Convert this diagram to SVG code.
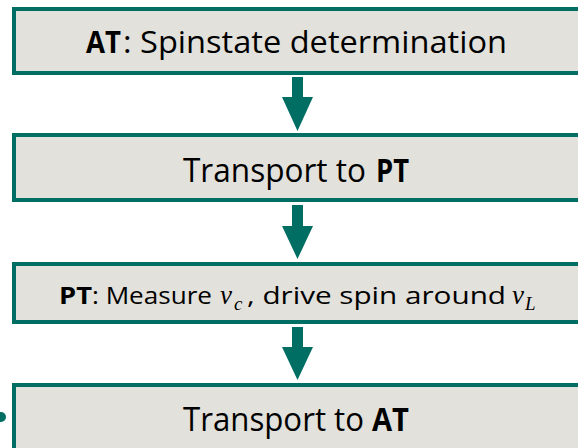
<svg xmlns="http://www.w3.org/2000/svg" width="578" height="448" viewBox="0 0 578 448">
  <style>
    .box { fill: #E2E1DB; stroke: #006E63; stroke-width: 4; }
    .lbl { font-family: "Open Sans", "Noto Sans", sans-serif; fill: #000; }
    .b { font-weight: bold; }
    .math { font-family: "Liberation Serif", "DejaVu Serif", serif; font-style: italic; fill: #000; }
    .arrow { fill: #006E63; }
  </style>
  <rect x="0" y="0" width="578" height="448" fill="#FFFFFF"/>

  <g id="node-at-spinstate">
    <rect class="box" x="14" y="9" width="580" height="64"/>
    <text class="lbl b" x="86" y="53" font-size="31" textLength="35" lengthAdjust="spacingAndGlyphs">AT</text>
    <text class="lbl" x="123" y="53" font-size="31" textLength="384" lengthAdjust="spacingAndGlyphs">: Spinstate determination</text>
  </g>

  <g id="node-transport-pt">
    <rect class="box" x="14" y="135" width="580" height="65"/>
    <text class="lbl" x="183" y="182" font-size="32" textLength="183" lengthAdjust="spacingAndGlyphs">Transport to</text>
    <text class="lbl b" x="376" y="182" font-size="32" textLength="33" lengthAdjust="spacingAndGlyphs">PT</text>
  </g>

  <g id="node-pt-measure">
    <rect class="box" x="14" y="264" width="580" height="58"/>
    <text class="lbl b" x="59" y="304" font-size="24" textLength="33" lengthAdjust="spacingAndGlyphs">PT</text>
    <text class="lbl" x="92" y="304" font-size="24" textLength="120" lengthAdjust="spacingAndGlyphs">: Measure</text>
    <text class="math" x="220" y="304" font-size="27">ν</text>
    <text class="math" x="234" y="310" font-size="19">c</text>
    <text class="lbl" x="247" y="304" font-size="24" textLength="259" lengthAdjust="spacingAndGlyphs">, drive spin around</text>
    <text class="math" x="512" y="304" font-size="27">ν</text>
    <text class="math" x="525" y="310" font-size="19">L</text>
  </g>

  <g id="node-transport-at">
    <rect class="box" x="14" y="385" width="580" height="80"/>
    <text class="lbl" x="183" y="431" font-size="32" textLength="181" lengthAdjust="spacingAndGlyphs">Transport to</text>
    <text class="lbl b" x="372" y="431" font-size="32" textLength="37" lengthAdjust="spacingAndGlyphs">AT</text>
  </g>

  <g id="connectors">
    <polygon class="arrow" points="292,77 303,77 303,97 313,97 297.5,131 282,97 292,97"/>
    <polygon class="arrow" points="292,205 303,205 303,226 313,226 297.5,259 282,226 292,226"/>
    <polygon class="arrow" points="292,327 303,327 303,347 313,347 297.5,380 282,347 292,347"/>
    <circle class="arrow" cx="1" cy="417" r="5"/>
  </g>
</svg>
